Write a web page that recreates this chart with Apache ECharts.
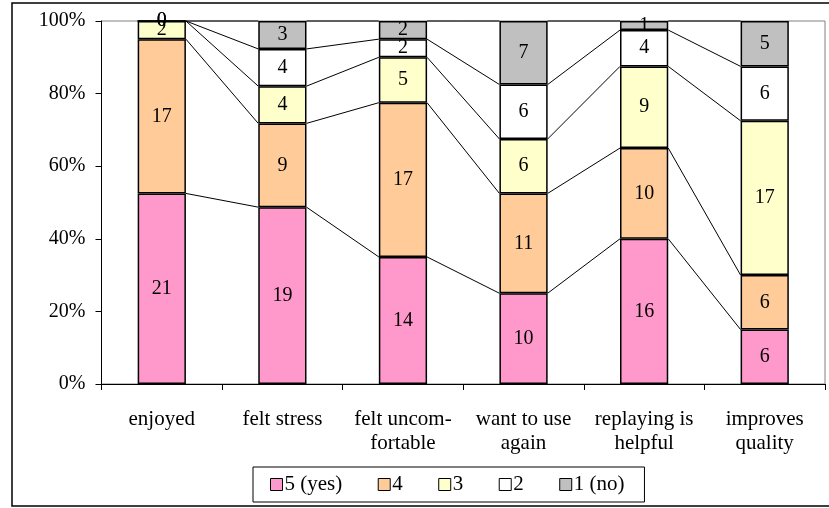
<!DOCTYPE html>
<html>
<head>
<meta charset="utf-8">
<script src="https://cdn.jsdelivr.net/npm/echarts@6/dist/echarts.min.js"></script>
<style>html,body{margin:0;padding:0;background:#fff}#c{width:829px;height:508px}</style>
</head>
<body>
<div id="c"></div>
<script>
var categories = ['enjoyed', 'felt stress', 'felt uncom-\nfortable', 'want to use\nagain', 'replaying is\nhelpful', 'improves\nquality'];
var seriesNames = ['5 (yes)', '4', '3', '2', '1 (no)'];
var colors = ['#FF99CC', '#FFCC99', '#FFFFCC', '#FFFFFF', '#C0C0C0'];
var s5 = [21, 19, 14, 10, 16, 6];
var s4 = [17, 9, 17, 11, 10, 6];
var s3 = [2, 4, 5, 6, 9, 17];
var s2 = [0, 4, 2, 6, 4, 6];
var s1 = [0, 3, 2, 7, 1, 5];
var yTicks = [0, 20, 40, 60, 80, 100];

var counts = [s5, s4, s3, s2, s1];
var totals = categories.map(function (_, i) {
  return counts.reduce(function (a, s) { return a + s[i]; }, 0);
});
var pct = counts.map(function (s) {
  return s.map(function (v, i) { return v / totals[i] * 100; });
});
var cum = [];
pct.forEach(function (s, k) {
  cum.push(s.map(function (v, i) { return (k ? cum[k - 1][i] : 0) + v; }));
});

var font = 'Liberation Serif';
var series = pct.map(function (s, k) {
  return {
    name: seriesNames[k],
    type: 'bar',
    stack: 'all',
    barWidth: '40%',
    data: s,
    itemStyle: { color: colors[k], borderColor: '#000', borderWidth: 1.5 },
    label: {
      show: true, position: 'inside', color: '#000', fontFamily: font, fontSize: 20,
      formatter: function (p) { return counts[k][p.dataIndex]; }
    },
    emphasis: { disabled: true }
  };
});
series.push({
  type: 'custom',
  coordinateSystem: 'cartesian2d',
  silent: true,
  z: 1,
  data: categories.slice(0, categories.length - 1).map(function (_, i) { return [i, 0]; }),
  encode: { x: 0, y: 1 },
  renderItem: function (params, api) {
    var i = params.dataIndex;
    var band = api.size([1, 0])[0];
    var hb = band * 0.2;
    var children = cum.map(function (c) {
      var p1 = api.coord([i, c[i]]);
      var p2 = api.coord([i + 1, c[i + 1]]);
      return {
        type: 'line',
        shape: { x1: p1[0] + hb, y1: p1[1], x2: p2[0] - hb, y2: p2[1] },
        style: { stroke: '#000', lineWidth: 1 }
      };
    });
    return { type: 'group', children: children };
  }
});

var chart = echarts.init(document.getElementById('c'));
chart.setOption({
  animation: false,
  backgroundColor: '#fff',
  graphic: [{
    type: 'rect', silent: true, z: -10,
    shape: { x: 12, y: 3, width: 830, height: 503 },
    style: { fill: 'none', stroke: '#000', lineWidth: 1.5 }
  }],
  grid: { left: 101.5, right: 4, top: 21, bottom: 124, show: true, borderColor: '#808080', borderWidth: 1 },
  legend: {
    data: seriesNames,
    left: 253, top: 467,
    padding: [7, 20, 7, 17],
    itemGap: 35.5, itemWidth: 12, itemHeight: 12,
    borderColor: '#000', borderWidth: 1,
    textStyle: { fontFamily: font, fontSize: 21, color: '#000', padding: [0, 0, 0, -3] },
    itemStyle: { borderColor: '#000', borderWidth: 1 },
    icon: 'rect'
  },
  xAxis: {
    type: 'category',
    data: categories,
    axisLine: { lineStyle: { color: '#000', width: 1 } },
    axisTick: { show: true, length: 6, lineStyle: { color: '#000' } },
    axisLabel: { color: '#000', fontFamily: font, fontSize: 21, lineHeight: 24, margin: 23, interval: 0 }
  },
  yAxis: {
    type: 'value',
    min: yTicks[0], max: yTicks[yTicks.length - 1], interval: 20,
    splitLine: { show: false },
    axisLine: { show: true, lineStyle: { color: '#000', width: 1 } },
    axisTick: { show: true, length: 6, lineStyle: { color: '#000' } },
    axisLabel: { color: '#000', fontFamily: font, fontSize: 20, margin: 16, formatter: '{value}%' }
  },
  series: series
});
</script>
</body>
</html>
